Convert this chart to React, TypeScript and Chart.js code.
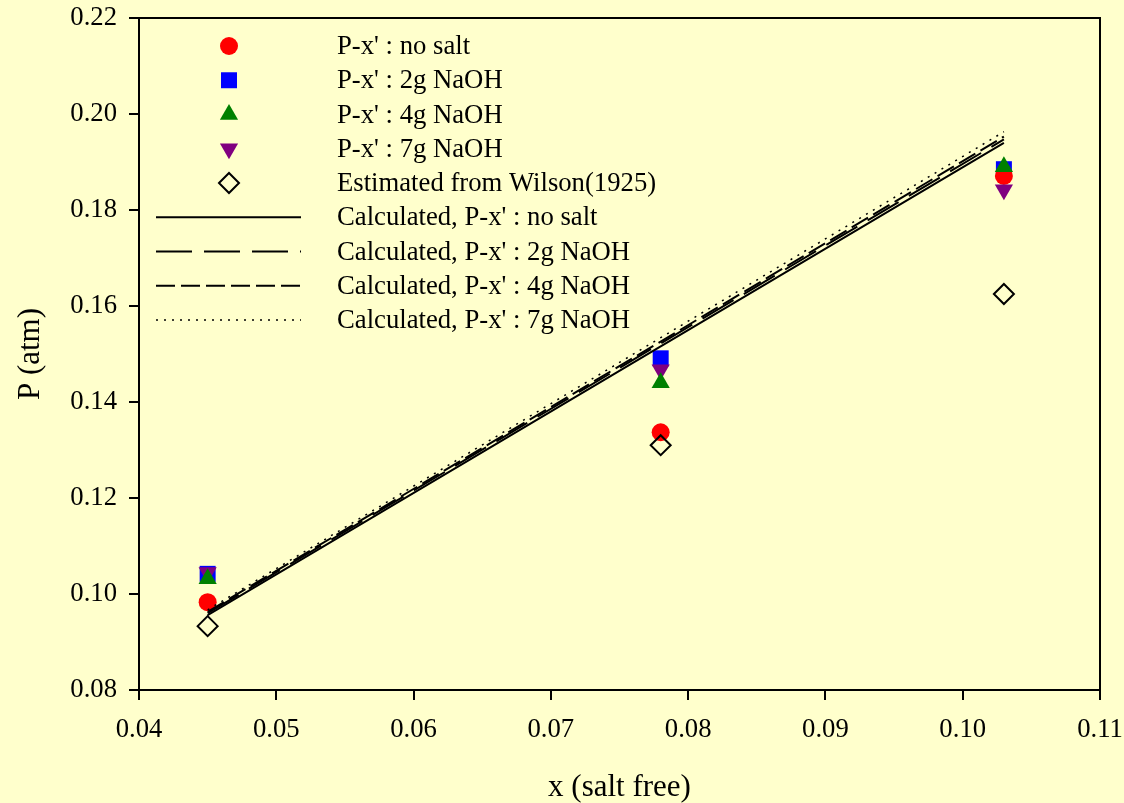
import React, { useEffect, useRef } from "react";
import { Chart, registerables } from "chart.js";
import { drawPoint } from "chart.js/helpers";

Chart.register(...registerables);

// ---------- data ----------
const xValues = [0.045, 0.078, 0.103];

const noSalt = [0.0983, 0.1337, 0.1871];
const naoh2g = [0.1042, 0.1491, 0.1885];
const naoh4g = [0.1032, 0.1440, 0.1890];
const naoh7g = [0.1045, 0.1467, 0.1842];
const wilson = [0.0933, 0.1310, 0.1625];

const calcNoSalt = [0.0956, 0.1516, 0.1940];
const calc2g = [0.0960, 0.1522, 0.1947];
const calc4g = [0.0963, 0.1526, 0.1953];
const calc7g = [0.0967, 0.1534, 0.1963];

const xTicks = [0.04, 0.05, 0.06, 0.07, 0.08, 0.09, 0.1, 0.11];
const yTicks = [0.08, 0.1, 0.12, 0.14, 0.16, 0.18, 0.2, 0.22];

const labels = [
  "P-x' : no salt",
  "P-x' : 2g NaOH",
  "P-x' : 4g NaOH",
  "P-x' : 7g NaOH",
  "Estimated from Wilson(1925)",
  "Calculated, P-x' : no salt",
  "Calculated, P-x' : 2g NaOH",
  "Calculated, P-x' : 4g NaOH",
  "Calculated, P-x' : 7g NaOH",
];

const FONT = "'Liberation Serif', 'Times New Roman', Times, serif";
const BG = "#FFFFCC";
const TEXT_SIZE = 26.7;

const toPts = (ys: number[]) => xValues.map((x, i) => ({ x, y: ys[i] }));

const framePlugin = {
  id: "frame",
  beforeDatasetsDraw(chart: any) {
    const { ctx, chartArea } = chart;
    ctx.save();
    ctx.strokeStyle = "#000";
    ctx.lineWidth = 2;
    ctx.strokeRect(chartArea.left, chartArea.top, chartArea.right - chartArea.left, chartArea.bottom - chartArea.top);
    ctx.restore();
  },
};

const legendPlugin = {
  id: "customLegend",
  afterDraw(chart: any) {
    const ctx = chart.ctx;
    const top = 46;
    const step = 34.25;
    ctx.save();
    chart.data.datasets.forEach((ds: any, i: number) => {
      const y = top + i * step;
      if (ds.showLine) {
        ctx.strokeStyle = ds.borderColor;
        ctx.lineWidth = ds.borderWidth;
        ctx.setLineDash(ds.borderDash || []);
        ctx.beginPath();
        ctx.moveTo(156, y);
        ctx.lineTo(301, y);
        ctx.stroke();
        ctx.setLineDash([]);
      } else {
        ctx.fillStyle = ds.backgroundColor;
        ctx.strokeStyle = ds.borderColor;
        ctx.lineWidth = ds.pointBorderWidth;
        drawPoint(
          ctx,
          {
            pointStyle: ds.pointStyle,
            rotation: ds.pointRotation || 0,
            radius: ds.pointRadius,
            borderWidth: ds.pointBorderWidth,
          } as any,
          229,
          y
        );
      }
      ctx.fillStyle = "#000";
      ctx.font = `${TEXT_SIZE}px ${FONT}`;
      ctx.textAlign = "left";
      ctx.textBaseline = "middle";
      ctx.fillText(ds.label, 337, y + 1);
    });
    ctx.restore();
  },
};

export default function App() {
  const canvasRef = useRef<HTMLCanvasElement | null>(null);

  useEffect(() => {
    if (!canvasRef.current) return;
    Chart.defaults.font.family = FONT;
    Chart.defaults.color = "#000";

    const pointDs = (label: string, data: number[], color: string, style: string, radius: number, order: number, rotation = 0, fill = true) => ({
      label,
      data: toPts(data),
      showLine: false,
      pointStyle: style,
      pointRadius: radius,
      pointHoverRadius: radius,
      pointRotation: rotation,
      backgroundColor: fill ? color : "rgba(0,0,0,0)",
      borderColor: fill ? color : "#000",
      pointBorderWidth: fill ? 0 : 2,
      borderWidth: fill ? 0 : 2,
      order,
    });

    const lineDs = (label: string, data: number[], dash: number[], width: number, order: number) => ({
      label,
      data: toPts(data),
      showLine: true,
      borderColor: "#000",
      backgroundColor: "#000",
      borderWidth: width,
      borderDash: dash,
      pointRadius: 0,
      pointHoverRadius: 0,
      fill: false,
      tension: 0,
      order,
    });

    const chart = new Chart(canvasRef.current, {
      type: "scatter",
      data: {
        datasets: [
          pointDs(labels[0], noSalt, "#FF0000", "circle", 9, 9),
          pointDs(labels[1], naoh2g, "#0000FF", "rect", 11.3, 10),
          pointDs(labels[2], naoh4g, "#008000", "triangle", 10.5, 7),
          pointDs(labels[3], naoh7g, "#800080", "triangle", 10.5, 8, 180),
          pointDs(labels[4], wilson, "#000", "rectRot", 10, 6, 0, false),
          lineDs(labels[5], calcNoSalt, [], 2, 4),
          lineDs(labels[6], calc2g, [36, 12], 2, 3),
          lineDs(labels[7], calc4g, [19, 6], 2, 2),
          lineDs(labels[8], calc7g, [2, 6], 1.5, 1),
        ] as any,
      },
      options: {
        animation: false,
        responsive: false,
        maintainAspectRatio: false,
        devicePixelRatio: 1,
        layout: { padding: { top: 18, right: 24, left: 0, bottom: 0 } },
        plugins: {
          legend: { display: false },
          tooltip: { enabled: false },
        },
        scales: {
          x: {
            type: "linear",
            min: 0.04,
            max: 0.11,
            afterBuildTicks: (scale: any) => {
              scale.ticks = xTicks.map((v) => ({ value: v }));
            },
            afterFit: (scale: any) => {
              scale.height = 113;
              scale.paddingLeft = 0;
              scale.paddingRight = 0;
            },
            border: { display: false },
            grid: {
              display: true,
              drawOnChartArea: false,
              drawTicks: true,
              tickLength: 10,
              color: "#000",
              lineWidth: 2,
            },
            ticks: {
              color: "#000",
              font: { size: TEXT_SIZE, family: FONT },
              padding: 14,
              maxRotation: 0,
              autoSkip: false,
              callback: (v: any) => Number(v).toFixed(2),
            },
            title: {
              display: true,
              text: "x (salt free)",
              color: "#000",
              font: { size: 31, family: FONT, lineHeight: 1.0 },
              padding: { top: 0, bottom: 0 },
            },
          },
          y: {
            type: "linear",
            min: 0.08,
            max: 0.22,
            afterBuildTicks: (scale: any) => {
              scale.ticks = yTicks.map((v) => ({ value: v }));
            },
            afterFit: (scale: any) => {
              scale.width = 139;
              scale.paddingTop = 0;
              scale.paddingBottom = 0;
            },
            border: { display: false },
            grid: {
              display: true,
              drawOnChartArea: false,
              drawTicks: true,
              tickLength: 10,
              color: "#000",
              lineWidth: 2,
            },
            ticks: {
              color: "#000",
              font: { size: TEXT_SIZE, family: FONT },
              padding: 12,
              autoSkip: false,
              callback: (v: any) => Number(v).toFixed(2),
            },
            title: {
              display: true,
              text: "P (atm)",
              color: "#000",
              font: { size: 31, family: FONT, lineHeight: 1.2 },
              padding: { top: 12, bottom: 0 },
            },
          },
        },
      } as any,
      plugins: [framePlugin, legendPlugin],
    });

    return () => chart.destroy();
  }, []);

  return (
    <div
      style={{
        position: "fixed",
        left: 0,
        top: 0,
        width: 1124,
        height: 803,
        background: BG,
      }}
    >
      <canvas ref={canvasRef} width={1124} height={803} style={{ display: "block", width: 1124, height: 803 }} />
    </div>
  );
}
